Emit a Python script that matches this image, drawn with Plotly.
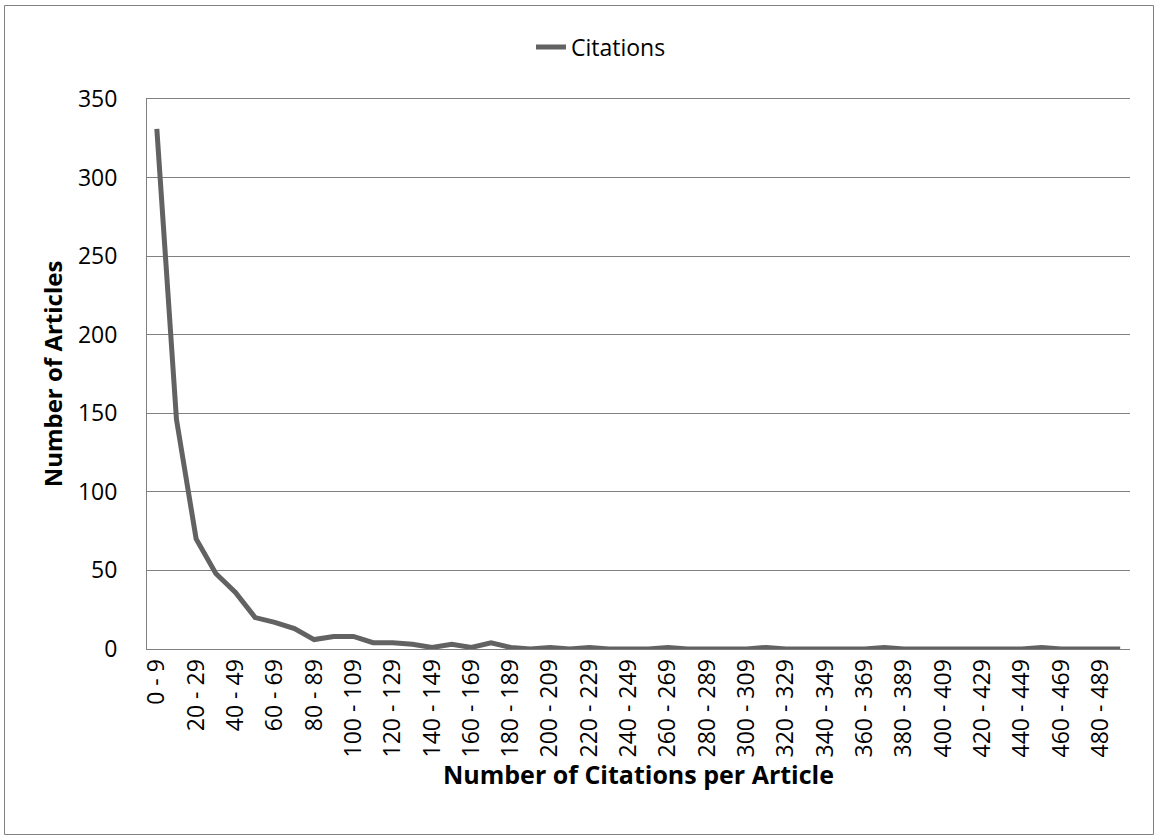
import plotly.graph_objects as go

categories = [f"{i*10} - {i*10+9}" for i in range(50)]
citations = [331, 146, 70, 48, 36, 20, 17, 13, 6, 8,
             8, 4, 4, 3, 1, 3, 1, 4, 1, 0,
             1, 0, 1, 0, 0, 0, 1, 0, 0, 0,
             0, 1, 0, 0, 0, 0, 0, 1, 0, 0,
             0, 0, 0, 0, 0, 1, 0, 0, 0, 0]
tick_labels = categories[::2]
y_ticks = [0, 50, 100, 150, 200, 250, 300, 350]

FONT = "Open Sans"
TICK_FS = 23
TITLE_FS = 25
LEG_FS = 23
GRID = "rgb(128,128,128)"

fig = go.Figure()
fig.add_trace(go.Scatter(
    x=categories, y=citations, mode="lines", name="Citations",
    line=dict(color="rgb(98,98,98)", width=5),
))

W, H = 1159, 840
L, R, T, B = 147, 29, 99, 191
pw, ph = W - L - R, H - T - B

fig.update_layout(
    width=W, height=H,
    margin=dict(l=L, r=R, t=T, b=B, pad=0),
    paper_bgcolor="white", plot_bgcolor="white",
    font=dict(family=FONT, size=TICK_FS, color="black"),
    showlegend=True,
    legend=dict(orientation="h", x=(601 - L) / pw, xanchor="center",
                y=(H - B - 47) / ph, yanchor="middle",
                font=dict(family=FONT, size=LEG_FS), bgcolor="rgba(0,0,0,0)",
                itemwidth=30),
    xaxis=dict(
        type="category", tickmode="array", tickvals=tick_labels, ticktext=tick_labels,
        tickangle=-90, showgrid=False, showline=True, mirror=True,
        linecolor=GRID, linewidth=1,
        ticks="", tickfont=dict(family=FONT, size=TICK_FS),
        title=dict(text="<b>Number of Citations per Article</b>",
                   font=dict(family=FONT, size=TITLE_FS), standoff=1),
        range=[-0.5, 49.5],
    ),
    yaxis=dict(
        range=[0, 350], tickvals=y_ticks, showgrid=True, gridcolor=GRID, gridwidth=1,
        showline=True, linecolor=GRID, linewidth=1, ticks="", zeroline=False,
        tickfont=dict(family=FONT, size=TICK_FS), ticklabelstandoff=24,
        title=dict(text="<b>Number of Articles</b>",
                   font=dict(family=FONT, size=24), standoff=8),
    ),
    shapes=[dict(type="rect", xref="paper", yref="paper",
                 x0=(4.5 - L) / pw, x1=(1153.5 - L) / pw,
                 y0=(H - B - 834.5) / ph, y1=(H - B - 5.5) / ph,
                 line=dict(color=GRID, width=1), fillcolor="rgba(0,0,0,0)", layer="below")],
)

fig.write_html("out.html")
